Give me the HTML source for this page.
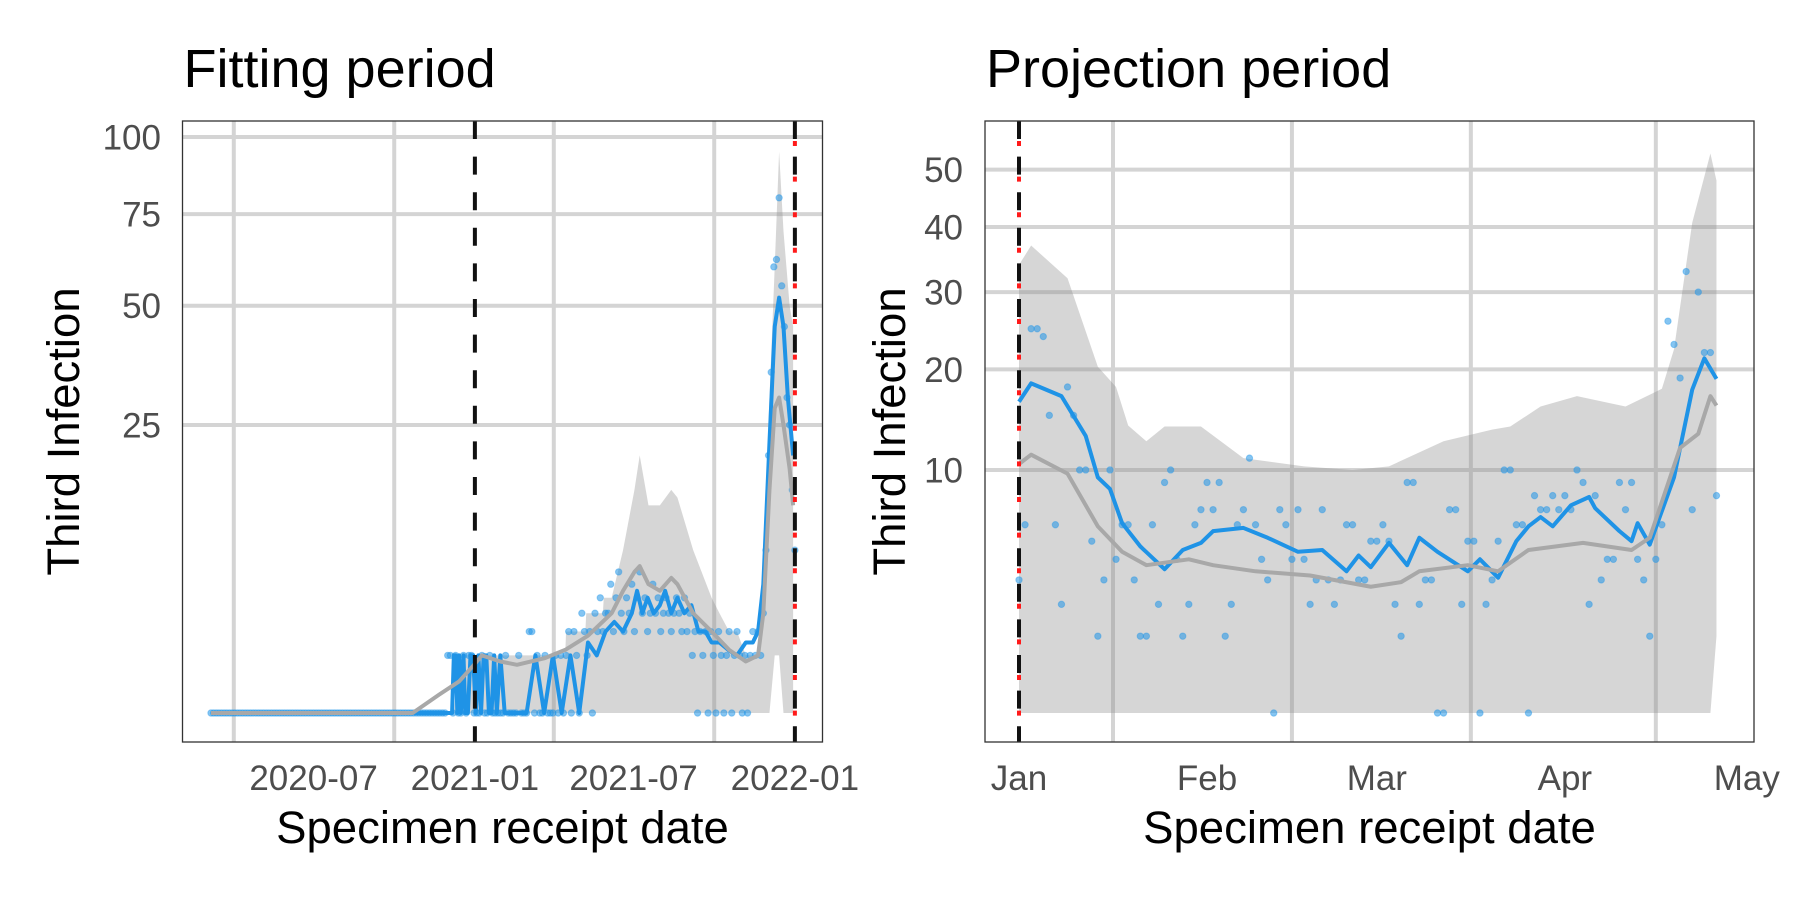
<!DOCTYPE html>
<html><head><meta charset="utf-8"><style>
body{margin:0;background:#fff;}
svg{display:block;font-family:"Liberation Sans",Arial,sans-serif;}
</style></head><body>
<svg id="chart" width="1800" height="900" viewBox="0 0 1800 900" xmlns="http://www.w3.org/2000/svg"></svg>
<script>
// ---- Left panel (Fitting period) data: day offsets from 2020-03-06 ----
const leftRibDays = [0,277,283,404,405,427,428,447,448,457,470,483,489,499,512,525,532,550,571,580,591,600,610,625,630,637,643,648,653,660,664];
const leftRibUpper = [0,0,1,1,2,2,3,3,4,4,8,15,20,13,13,15,14,8,4,3,2,2,1,1,6,30,60,95,70,50,45];
const leftRibLower = [0,0,0,0,0,0,0,0,0,0,0,0,0,0,0,0,0,0,0,0,0,0,0,0,0,0,1,1,0,0,0];
const leftGrayDays = [0,230,260,283,300,309,330,349,380,404,430,457,470,483,489,499,512,525,532,550,571,591,610,624,630,637,643,648,653,660,664];
const leftGrayVals = [0,0,0.1,0.3,0.7,1,0.8,0.7,0.9,1.2,1.8,3,4.5,6,6.5,5,4.5,5.5,5,3,2,1.2,0.8,1,3,15,28,30,25,18,13];
const leftBlueDays = [0,275,277,279,281,283,285,288,290,293,296,299,302,305,308,311,314,317,320,323,326,330,335,340,345,350,360,370,380,390,400,
410,420,430,440,450,460,470,480,486,492,498,505,512,518,525,532,540,548,556,564,571,580,590,600,610,618,624,630,637,643,648,653,658,664];
const leftBlueVals = [0,0,1,1,0,1,0,1,0,0,1,1,0,1,0,1,1,0,0,1,0,1,0,0,0,0,0,1,0,1,0,
1,0,1.5,1,2,2.5,2,3,4.5,3,4,3,3.5,4.5,3,4,3,3.5,2,2,1.5,1.5,1.2,1,1.5,1.5,2,5,22,45,52,45,30,20];
// observed counts every 3 days from day 0
const leftObs = [0,0,0,0,0,0,0,0,0,0,0,0,0,0,0,0,0,0,0,0,0,0,0,0,0,0,0,0,0,0,
0,0,0,0,0,0,0,0,0,0,0,0,0,0,0,0,0,0,0,0,0,0,0,0,0,0,0,0,0,0,
0,0,0,0,0,0,0,0,0,0,0,0,0,0,0,0,0,0,0,0,0,0,0,0,0,0,0,0,0,0,
1,1,0,1,0,0,1,0,1,1,0,0,0,1,0,0,1,0,0,0,0,0,1,0,0,
0,0,1,0,0,0,2,2,0,1,0,0,1,0,0,0,1,0,1,0,
1,2,0,2,1,0,3,2,1,2,0,3,2,4,2,3,
3,5,2,4,6,3,2,4,3,5,2,4,6,3,4,2,3,5,3,4,2,3,4,3,2,3,4,
3,2,4,2,3,1,2,0,2,1,2,0,2,1,0,2,1,0,1,2,0,1,2,1,
0,1,0,1,2,1,2,1,
3,8,20,35,60,62,80,55,45,30,25,15,8];
const leftYTicks = [25,50,75,100];
const leftXTickLabels = ["2020-07","2021-01","2021-07","2022-01"];
const leftXTickDates = ["2020-07-01","2021-01-01","2021-07-01","2022-01-01"];
const leftGridDates = ["2020-04-01","2020-10-01","2021-04-01","2021-10-01"];

// ---- Right panel (Projection period) data: day offsets from 2022-01-01 ----
const rightRibDays = [0,2,8,13,16,18,21,24,30,37,47,55,61,70,78,81,86,92,100,106,108,111,114,115];
const rightRibUpper = [34,37,32,20.3,18,14,12.5,13.9,13.9,11,10.3,10,10.3,12.5,13.6,13.9,15.9,17,15.9,17.8,22.4,40.7,53,48];
const rightRibLower = [0,0,0,0,0,0,0,0,0,0,0,0,0,0,0,0,0,0,0,0,0,0,0,1];
const rightBlueDays = [0,2,7,11,13,15,17,20,24,27,30,32,37,41,46,50,54,56,58,61,64,66,69,74,76,79,82,84,86,88,91,94,95,99,101,102,104,108,111,113,115];
const rightBlueVals = [16.4,18.4,17,13,9.4,8.5,6.1,4.7,3.5,4.5,4.9,5.6,5.8,5.2,4.4,4.5,3.4,4.2,3.6,4.9,3.7,5.2,4.4,3.4,4.0,3.1,5.0,5.9,6.5,5.9,7.3,7.9,7.1,5.6,5.0,6.1,4.8,9.4,17.7,21.3,18.9];
const rightGrayDays = [0,2,8,13,17,21,28,32,39,48,58,63,66,74,79,84,93,101,104,109,112,114,115];
const rightGrayVals = [10.5,11.3,9.7,5.9,4.4,3.7,4.0,3.7,3.4,3.2,2.7,2.9,3.4,3.7,3.4,4.5,4.9,4.5,5.2,11.9,13.2,17,16];
const rightObs = [3,6,25,25,24,15,6,2,18,15,10,10,5,1,3,10,4,6,6,3,1,1,6,2,9,10,4,1,2,6,
7,9,7,9,1,2,6,7,11,6,4,3,0,7,6,4,7,4,2,3,7,3,2,3,6,6,3,3,5,5,
6,5,2,1,9,9,2,3,3,0,0,7,7,2,5,5,0,2,3,5,10,10,6,6,0,8,7,7,8,7,
8,7,10,9,2,8,3,4,4,9,7,9,4,3,1,4,6,26,23,19,33,7,30,22,22,8];
const rightYTicks = [10,20,30,40,50];
const rightXTickLabels = ["Jan","Feb","Mar","Apr","May"];
const rightXTickDates = ["2022-01-01","2022-02-01","2022-03-01","2022-04-01","2022-05-01"];

const NS = "http://www.w3.org/2000/svg";
const svg = document.getElementById('chart');
function mk(tag, attrs, parent){
  const e = document.createElementNS(NS, tag);
  for (const k in attrs) e.setAttribute(k, attrs[k]);
  (parent||svg).appendChild(e);
  return e;
}
const DAY = 86400000;
function dayOf(s, base){ return (Date.parse(s) - Date.parse(base)) / DAY; }

function panel(cfg){
  const g = mk('g', {});
  
  
  const {x0,x1,y0,y1} = cfg;
  const X = d => cfg.xStart + d * cfg.pxDay;
  const Y = v => cfg.yZero - Math.sqrt(Math.max(v,0)) * cfg.k;
  const cid = cfg.name + '-clip';
  const defs = mk('defs', {}, g);
  const cp = mk('clipPath', {id: cid}, defs);
  mk('rect', {x:x0, y:y0, width:x1-x0, height:y1-y0}, cp);
  const plot = mk('g', {'clip-path':'url(#'+cid+')'}, g);
  cfg.yTicks.forEach(t => {
    const l = mk('line', {x1:x0, x2:x1, y1:Y(t), y2:Y(t), stroke:'#d4d4d4', 'stroke-width':4}, plot);
    
    
  });
  cfg.gridDays.forEach((d,i) => {
    const l = mk('line', {x1:X(d), x2:X(d), y1:y0, y2:y1, stroke:'#d4d4d4', 'stroke-width':4}, plot);
    
    
  });
  let pts = cfg.ribDays.map((d,i) => X(d)+','+Y(cfg.ribUpper[i]));
  for (let i = cfg.ribDays.length-1; i >= 0; i--) pts.push(X(cfg.ribDays[i])+','+Y(cfg.ribLower[i]));
  const rib = mk('polygon', {points: pts.join(' '), fill:'#8c8c8c', 'fill-opacity':0.36}, plot);
  
  
  cfg.obs.forEach((v,i) => {
    const c = mk('circle', {cx:X(i*cfg.obsStep), cy:Y(v), r:3.2, fill:'#2196e8', 'fill-opacity':0.55, stroke:'#2196e8', 'stroke-opacity':0.4, 'stroke-width':1}, plot);
    
    
  });
  const blue = mk('polyline', {points: cfg.blueDays.map((d,i)=>X(d)+','+Y(cfg.blueVals[i])).join(' '), fill:'none', stroke:'#1f93e6', 'stroke-width':4, 'stroke-linejoin':'round'}, plot);
  
  
  const gray = mk('polyline', {points: cfg.grayDays.map((d,i)=>X(d)+','+Y(cfg.grayVals[i])).join(' '), fill:'none', stroke:'#a8a8a8', 'stroke-width':4, 'stroke-linejoin':'round'}, plot);
  
  
  cfg.dashes.forEach(dl => {
    const xx = X(dl.day);
    if (dl.red) {
      const r = mk('line', {x1:xx, x2:xx, y1:y0, y2:y1, stroke:'#ff1a1a', 'stroke-width':4, 'stroke-dasharray':'5 30.6', 'stroke-dashoffset':-20}, plot);
      
      
    }
    const b = mk('line', {x1:xx, x2:xx, y1:y0, y2:y1, stroke:'#111', 'stroke-width':4, 'stroke-dasharray':'18 17.6'}, plot);
    
    
  });
  const br = mk('rect', {x:x0, y:y0, width:x1-x0, height:y1-y0, fill:'none', stroke:'#333', 'stroke-width':1.3}, g);
  
  
  cfg.yTicks.forEach(t => {
    const tx = mk('text', {x:cfg.yLabelX, y:Y(t)+12.5, 'text-anchor':'end', 'font-size':35, fill:'#4d4d4d'}, g);
    tx.textContent = t;
    
    
  });
  cfg.xTickDays.forEach((d,i) => {
    const tx = mk('text', {x:X(d), y:790, 'text-anchor':'middle', 'font-size':35, fill:'#4d4d4d'}, g);
    tx.textContent = cfg.xTickLabels[i];
    
    
  });
  const tt = mk('text', {x:x0+1, y:87, 'font-size':54, fill:'#000'}, g);
  tt.textContent = cfg.title;
  
  
  const xt = mk('text', {x:(x0+x1)/2, y:843, 'text-anchor':'middle', 'font-size':45.5, fill:'#000'}, g);
  xt.textContent = 'Specimen receipt date';
  
  
  const yt = mk('text', {x:0, y:0, 'text-anchor':'middle', 'font-size':45.5, fill:'#000', transform:'translate('+cfg.yTitleX+','+((y0+y1)/2)+') rotate(-90)'}, g);
  yt.textContent = 'Third Infection';
  
  
}

const LB = "2020-03-06", RB = "2022-01-01";
panel({
  name:'fitting-period-panel', title:'Fitting period',
  x0:182.5, x1:822.5, y0:121, y1:742,
  xStart:211, pxDay:0.8767, yZero:713, k:57.6,
  yTicks:leftYTicks, yLabelX:161, yTitleX:79,
  gridDays:leftGridDates.map(s=>dayOf(s,LB)),
  xTickDays:leftXTickDates.map(s=>dayOf(s,LB)), xTickLabels:leftXTickLabels,
  ribDays:leftRibDays, ribUpper:leftRibUpper, ribLower:leftRibLower,
  blueDays:leftBlueDays, blueVals:leftBlueVals, grayDays:leftGrayDays, grayVals:leftGrayVals,
  obs:leftObs, obsStep:3,
  dashes:[{day:dayOf("2021-01-01",LB), red:false},{day:dayOf("2022-01-01",LB), red:true}]
});
panel({
  name:'projection-period-panel', title:'Projection period',
  x0:985, x1:1754, y0:121, y1:742,
  xStart:1019, pxDay:6.065, yZero:713, k:76.85,
  yTicks:rightYTicks, yLabelX:963, yTitleX:905,
  gridDays:[15.5,45,74.5,105],
  xTickDays:rightXTickDates.map(s=>dayOf(s,RB)), xTickLabels:rightXTickLabels,
  ribDays:rightRibDays, ribUpper:rightRibUpper, ribLower:rightRibLower,
  blueDays:rightBlueDays, blueVals:rightBlueVals, grayDays:rightGrayDays, grayVals:rightGrayVals,
  obs:rightObs, obsStep:1,
  dashes:[{day:0, red:true}]
});
</script>
</body></html>
